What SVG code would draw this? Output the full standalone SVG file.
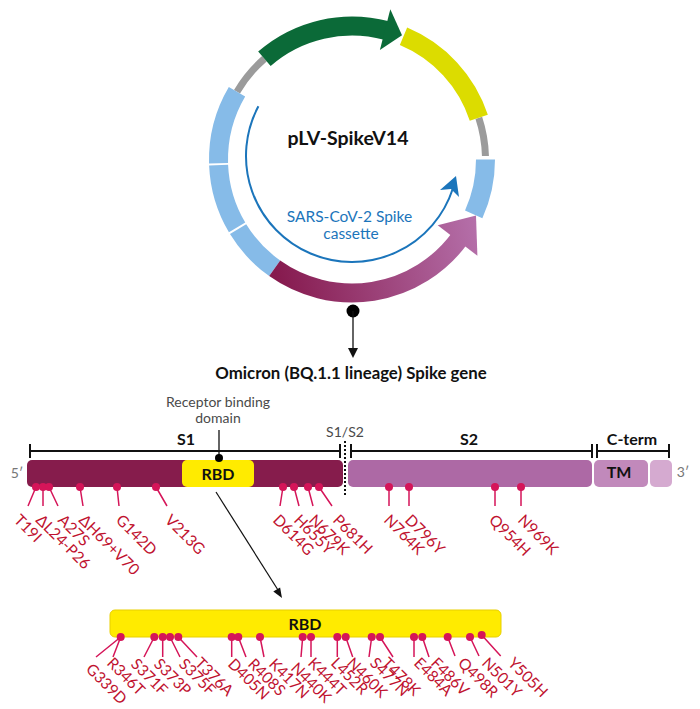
<svg xmlns="http://www.w3.org/2000/svg" width="700" height="709" viewBox="0 0 700 709">
<defs>
<linearGradient id="magGrad" gradientUnits="userSpaceOnUse" x1="275" y1="270" x2="478" y2="225">
<stop offset="0" stop-color="#861a4e"/><stop offset="1" stop-color="#b570aa"/>
</linearGradient>
<style>
text{font-family:Lato,"Liberation Sans",sans-serif}
.seg{fill:none;stroke-width:19}
.thin{fill:none;stroke:#9b9b9b;stroke-width:7}
.blue{stroke:#86bbe8}
.mut{font-size:15.5px;fill:#c0122f}
.dot{fill:#d51559}
.stem{stroke:#d51559;stroke-width:1.5}
.b{font-weight:700;fill:#111}
.gray{fill:#4a4a4a;font-size:14px}
.br{stroke:#111;stroke-width:2;fill:none}
</style>
</defs>
<rect width="700" height="709" fill="#fff"/>
<g id="plasmid">
<path class="thin" d="M237.0,91.75 A133.5,133.5 0 0 1 264.4,58.75"/>
<path class="thin" d="M478.8,117.8 A133.5,133.5 0 0 1 485.45,156.0"/>
<path class="seg blue" d="M485.5,159.5 A133.5,133.5 0 0 1 473.7,214.4"/>
<path class="seg" stroke="#dcdc00" d="M403.5,36.3 A133.5,133.5 0 0 1 478.8,117.8"/>
<path class="seg" stroke="#0b6a38" d="M264.4,58.75 A133.5,133.5 0 0 1 386.55,30.55"/>
<polygon fill="#0b6a38" points="379.9,50.0 390.3,9.3 402.0,35.2"/>
<path class="seg blue" d="M274.7,268.3 A133.5,133.5 0 0 1 238.1,229.1"/>
<path class="seg blue" d="M237.1,227.45 A133.5,133.5 0 0 1 218.6,165.1"/>
<path class="seg blue" d="M218.55,163.2 A133.5,133.5 0 0 1 237.0,91.75"/>
<path class="seg" stroke="url(#magGrad)" d="M274.7,268.3 A133.5,133.5 0 0 0 459.3,238.9"/>
<polygon fill="url(#magGrad)" points="437.7,225.3 477.4,255.7 476.0,215.5"/>
<path d="M258.4,106.2 A106,106 0 1 0 452.8,188.75" stroke="#1b75bb" stroke-width="2" fill="none"/>
<polygon fill="#1b75bb" points="456,176 440,190 451,189 459,197"/>
<text class="b" x="348" y="145" font-size="19.5" text-anchor="middle">pLV-SpikeV14</text>
<text x="349.5" y="222" font-size="15.5" fill="#1b75bb" text-anchor="middle">SARS-CoV-2 Spike</text>
<text x="351" y="239" font-size="15.5" fill="#1b75bb" text-anchor="middle">cassette</text>
<circle cx="353" cy="311" r="6.5" fill="#000"/>
</g>
<g id="connectors">
<line x1="353" y1="311" x2="353" y2="351" stroke="#111" stroke-width="1.3"/>
<polygon points="353,358 348,348 358,348" fill="#111"/>
<line x1="216" y1="492" x2="278" y2="590" stroke="#111" stroke-width="1.2"/>
<polygon points="282,598 273.3,591.6 280.1,587.4" fill="#111"/>
<line x1="219" y1="430" x2="219" y2="458" stroke="#111" stroke-width="1.3"/>
</g>
<text id="title" class="b" x="351" y="379" font-size="16.8" text-anchor="middle">Omicron (BQ.1.1 lineage) Spike gene</text>
<g id="brackets">
<path class="br" d="M30,451 H340 M30,444 V458 M340,444 V458"/>
<path class="br" d="M351,451 H592 M351,444 V458 M592,444 V458"/>
<path class="br" d="M597,451 H669 M597,444 V458 M669,444 V458"/>
<text class="b" x="186" y="445" font-size="16" text-anchor="middle">S1</text>
<text class="b" x="469" y="445" font-size="16" text-anchor="middle">S2</text>
<text class="b" x="632" y="445" font-size="16" text-anchor="middle">C-term</text>
<text class="gray" x="345" y="437" text-anchor="middle">S1/S2</text>
<text class="gray" x="218" y="407" text-anchor="middle">Receptor binding</text>
<text class="gray" x="218" y="423" text-anchor="middle">domain</text>
</g>
<g id="bar">
<rect x="27" y="460" width="316" height="27" rx="5" fill="#861c4c"/>
<rect x="182" y="460" width="72" height="27" rx="5" fill="#ffeb00"/>
<rect x="348" y="460" width="244" height="27" rx="5" fill="#ad69a5"/>
<rect x="594" y="460" width="54" height="27" rx="5" fill="#c189bb"/>
<rect x="650" y="460" width="22" height="27" rx="5" fill="#d5aad0"/>
<line x1="345" y1="441" x2="345" y2="497" stroke="#111" stroke-width="2" stroke-dasharray="2,2"/>
<circle cx="219" cy="458" r="4" fill="#000"/>
<text class="b" x="218" y="480" font-size="16" text-anchor="middle">RBD</text>
<text class="b" x="619" y="478" font-size="16" text-anchor="middle">TM</text>
<text x="17" y="478" font-size="14" fill="#777" text-anchor="middle">5′</text>
<text x="683" y="477" font-size="14" fill="#777" text-anchor="middle">3′</text>
</g>
<g id="spike-mutations">
<path class="stem" d="M36,487 L28,506 M43,487 L43,506 M49,487 L58,506 M80,487 L83,506 M117,487 L119,506 M156,487 L167,506 M283,487 L280,506 M294,487 L299,506 M308,487 L313,506 M319,487 L332,506 M389,487 L389,506 M409,487 L409,506 M495,487 L495,506 M521,487 L521,506"/>
<g class="dot">
<circle cx="36" cy="487" r="4"/><circle cx="43" cy="487" r="4"/><circle cx="49" cy="487" r="4"/><circle cx="80" cy="487" r="4"/><circle cx="117" cy="487" r="4"/><circle cx="156" cy="487" r="4"/><circle cx="283" cy="487" r="4"/><circle cx="294" cy="487" r="4"/><circle cx="308" cy="487" r="4"/><circle cx="319" cy="487" r="4"/><circle cx="389" cy="487" r="4"/><circle cx="409" cy="487" r="4"/><circle cx="495" cy="487" r="4"/><circle cx="521" cy="487" r="4"/>
</g>
<text class="mut" transform="translate(13,521) rotate(45)">T19I</text>
<text class="mut" transform="translate(35,521) rotate(45)">ΔL24-P26</text>
<text class="mut" transform="translate(57,521) rotate(45)">A27S</text>
<text class="mut" transform="translate(78,521) rotate(45)">ΔH69+V70</text>
<text class="mut" transform="translate(115,521) rotate(45)">G142D</text>
<text class="mut" transform="translate(164,521) rotate(45)">V213G</text>
<text class="mut" transform="translate(272,521) rotate(45)">D614G</text>
<text class="mut" transform="translate(293,521) rotate(45)">H655Y</text>
<text class="mut" transform="translate(308,521) rotate(45)">N679K</text>
<text class="mut" transform="translate(332,521) rotate(45)">P681H</text>
<text class="mut" transform="translate(383,521) rotate(45)">N764K</text>
<text class="mut" transform="translate(404,521) rotate(45)">D796Y</text>
<text class="mut" transform="translate(488,521) rotate(45)">Q954H</text>
<text class="mut" transform="translate(517,521) rotate(45)">N969K</text>
</g>
<g id="rbd-detail">
<rect x="110" y="610" width="391" height="27" rx="5" fill="#ffeb00" stroke="#e8cf00" stroke-width="1"/>
<text class="b" x="305" y="630" font-size="16" text-anchor="middle">RBD</text>
</g>
<g id="rbd-mutations">
<path class="stem" d="M120.7,637 L96,657 M120.7,637 L113,657 M154.3,637 L144,657 M162.7,637 L162.7,657 M170,637 L180,657 M178.3,637 L197,657 M231.7,637 L231.7,657 M238.3,637 L246,657 M260,637 L264,657 M302.7,637 L301,657 M311,637 L311,657 M337.3,637 L337.3,657 M345.7,637 L352.7,657 M371.7,637 L369,657 M380,637 L393,657 M414,637 L414,657 M422.3,637 L429,657 M447.7,637 L455,656 M470,637 L479,656 M481.7,635 L500.7,656"/>
<g class="dot">
<circle cx="120.7" cy="637" r="4"/><circle cx="154.3" cy="637" r="4"/><circle cx="162.7" cy="637" r="4"/><circle cx="170" cy="637" r="4"/><circle cx="178.3" cy="637" r="4"/><circle cx="231.7" cy="637" r="4"/><circle cx="238.3" cy="637" r="4"/><circle cx="260" cy="637" r="4"/><circle cx="302.7" cy="637" r="4"/><circle cx="311" cy="637" r="4"/><circle cx="337.3" cy="637" r="4"/><circle cx="345.7" cy="637" r="4"/><circle cx="371.7" cy="637" r="4"/><circle cx="380" cy="637" r="4"/><circle cx="414" cy="637" r="4"/><circle cx="422.3" cy="637" r="4"/><circle cx="447.7" cy="637" r="4"/><circle cx="470" cy="637" r="4"/><circle cx="481.7" cy="635" r="4"/>
</g>
<text class="mut" transform="translate(85,670) rotate(45)">G339D</text>
<text class="mut" transform="translate(106,664) rotate(45)">R346T</text>
<text class="mut" transform="translate(130,665) rotate(45)">S371F</text>
<text class="mut" transform="translate(153,665) rotate(45)">S373P</text>
<text class="mut" transform="translate(178,665) rotate(45)">S375F</text>
<text class="mut" transform="translate(194,664) rotate(45)">T376A</text>
<text class="mut" transform="translate(227,665) rotate(45)">D405N</text>
<text class="mut" transform="translate(247,665) rotate(45)">R408S</text>
<text class="mut" transform="translate(268,665) rotate(45)">K417N</text>
<text class="mut" transform="translate(290,669) rotate(45)">N440K</text>
<text class="mut" transform="translate(307,664) rotate(45)">K444T</text>
<text class="mut" transform="translate(330,664) rotate(45)">L452R</text>
<text class="mut" transform="translate(346,664) rotate(45)">N460K</text>
<text class="mut" transform="translate(369,664) rotate(45)">S477N</text>
<text class="mut" transform="translate(381,664) rotate(45)">T478K</text>
<text class="mut" transform="translate(413,664) rotate(45)">E484A</text>
<text class="mut" transform="translate(430,664) rotate(45)">F486V</text>
<text class="mut" transform="translate(457,664) rotate(45)">Q498R</text>
<text class="mut" transform="translate(481,664) rotate(45)">N501Y</text>
<text class="mut" transform="translate(507,664) rotate(45)">Y505H</text>
</g>
</svg>
